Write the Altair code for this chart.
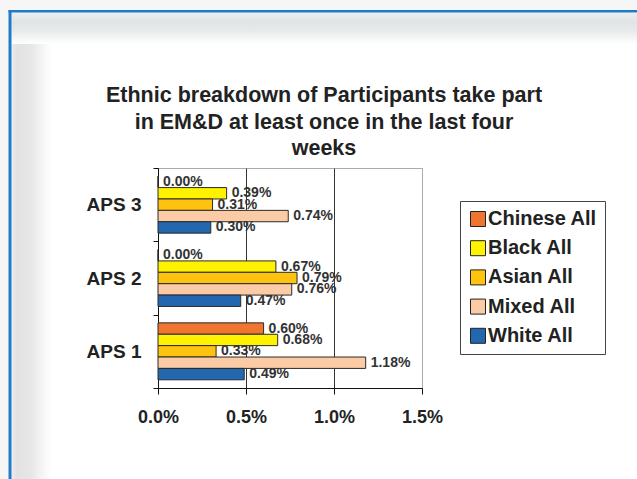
import altair as alt
import pandas as pd

# Survey areas (top to bottom) and ethnic groups (legend / bar order)
areas = ["APS 3", "APS 2", "APS 1"]
groups = ["Chinese All", "Black All", "Asian All", "Mixed All", "White All"]

# Percentage of participants per group, listed in the same order as `areas`
chinese_all = [0.00, 0.00, 0.60]
black_all = [0.39, 0.67, 0.68]
asian_all = [0.31, 0.79, 0.33]
mixed_all = [0.74, 0.76, 1.18]
white_all = [0.30, 0.47, 0.49]

x_ticks = [0.0, 0.5, 1.0, 1.5]
group_colors = ["#EF7630", "#FFF200", "#FFC20E", "#FBCBA5", "#2368AE"]

title_lines = [
    "Ethnic breakdown of Participants take part",
    "in EM&D at least once in the last four",
    "weeks",
]

series = {
    "Chinese All": chinese_all,
    "Black All": black_all,
    "Asian All": asian_all,
    "Mixed All": mixed_all,
    "White All": white_all,
}
rows = []
for g in groups:
    for a, v in zip(areas, series[g]):
        rows.append({"area": a, "group": g, "value": v})
df = pd.DataFrame(rows)

FONT = "Liberation Sans"
W, H = 264, 220
PAD_L, PAD_T = 158, 168

# ---- page frame: light outer strip, blue border lines, soft inner shadow ----
one = pd.DataFrame({"d": [0]})


def box(x0, x1, y0, y1, **mark):
    """Rectangle given in canvas pixels, converted to plot-area coordinates."""
    return alt.Chart(one).mark_rect(**mark).encode(
        x=alt.value(x0 - PAD_L), x2=alt.value(x1 - PAD_L),
        y=alt.value(y0 - PAD_T), y2=alt.value(y1 - PAD_T),
    )


top_shadow = alt.LinearGradient(
    gradient="linear", x1=0, x2=0, y1=0, y2=1,
    stops=[
        alt.GradientStop(color="#eef0f0", offset=0),
        alt.GradientStop(color="#e0e4e4", offset=0.3),
        alt.GradientStop(color="#e8ebeb", offset=0.6),
        alt.GradientStop(color="#ffffff", offset=1),
    ],
)
left_shadow = alt.LinearGradient(
    gradient="linear", x1=0, x2=1, y1=0, y2=0,
    stops=[
        alt.GradientStop(color="#ebebeb", offset=0),
        alt.GradientStop(color="#e2e2e2", offset=0.15),
        alt.GradientStop(color="#e7e7e7", offset=0.5),
        alt.GradientStop(color="#f7f7f7", offset=0.8),
        alt.GradientStop(color="#ffffff", offset=1),
    ],
)

frame = [
    box(0, 637, 0, 10, fill="#f6f6f6"),
    box(0, 8.5, 0, 479, fill="#f6f6f6"),
    box(11.5, 52, 12.5, 479, fill=left_shadow),
    box(11.5, 637, 12.5, 44, fill=top_shadow),
    box(8.5, 637, 10, 12.5, fill="#1f7bc8"),
    box(8.5, 11.5, 10, 479, fill="#1f7bc8"),
]

# ---- chart title (three centred lines) ----
title = alt.Chart(one).mark_text(
    text=title_lines, font=FONT, fontSize=21.5, fontWeight="bold", color="#222",
    align="center", baseline="alphabetic", lineHeight=26.5,
).encode(x=alt.value(324 - PAD_L), y=alt.value(102 - PAD_T))

# ---- bars and value labels ----
base = alt.Chart(df).encode(
    y=alt.Y(
        "area:N", sort=areas, title=None,
        scale=alt.Scale(paddingInner=0, paddingOuter=0),
        axis=alt.Axis(
            tickBand="extent", ticks=True, tickSize=5, tickColor="#111",
            domainColor="#111", labelFont=FONT, labelFontSize=19,
            labelFontWeight="bold", labelColor="#222", labelPadding=12,
            grid=False,
        ),
    ),
    yOffset=alt.YOffset(
        "group:N", sort=groups,
        scale=alt.Scale(paddingInner=0, paddingOuter=0.72),
    ),
)

bars = base.mark_bar(stroke="#2a2a2a", strokeWidth=1).encode(
    x=alt.X(
        "value:Q", title=None,
        scale=alt.Scale(domain=[0, 1.5], nice=False),
        axis=alt.Axis(
            values=x_ticks, labelExpr="format(datum.value, '.1f') + '%'",
            grid=True,
            gridColor={"condition": {"test": "datum.value >= 1.5", "value": "#aaaaaa"},
                       "value": "#333333"},
            tickSize=6, tickColor="#111", domainColor="#111",
            labelFont=FONT, labelFontSize=18, labelFontWeight="bold",
            labelColor="#222", labelPadding=14, labelFlush=False,
            labelOverlap=False,
        ),
    ),
    color=alt.Color(
        "group:N", sort=groups,
        scale=alt.Scale(domain=groups, range=group_colors),
        legend=alt.Legend(
            title=None, orient="none", legendX=302, legendY=33,
            symbolType="square", symbolSize=225, symbolStrokeColor="#222",
            symbolStrokeWidth=1, labelFont=FONT, labelFontSize=20,
            labelFontWeight="bold", labelColor="#222", labelOffset=0,
            rowPadding=9.2, padding=8, strokeColor="#444", fillColor="#ffffff",
        ),
    ),
)

labels = base.mark_text(
    align="left", baseline="middle", dx=5, font=FONT, fontSize=14,
    fontWeight="bold", color="#333",
).transform_calculate(
    label="format(datum.value, '.2f') + '%'"
).encode(x=alt.X("value:Q"), text="label:N")

chart = alt.layer(*frame, title, bars, labels).properties(
    width=W, height=H,
    autosize=alt.AutoSizeParams(type="none"),
    padding={"left": PAD_L, "top": PAD_T, "right": 637 - PAD_L - W, "bottom": 479 - PAD_T - H},
    background="#ffffff",
).configure_view(stroke="#aaaaaa", strokeWidth=1)

chart.save("out.html", embed_options={"renderer": "svg", "actions": False})
